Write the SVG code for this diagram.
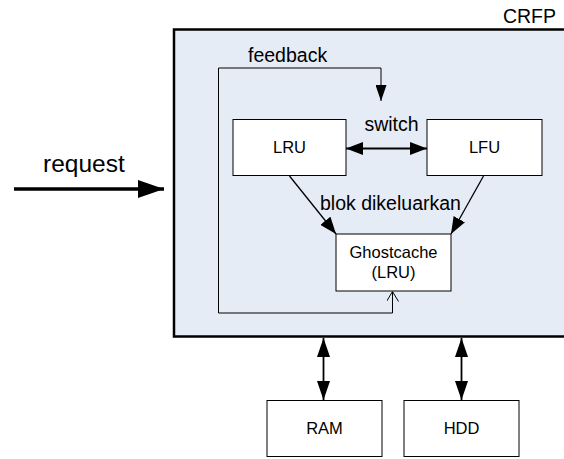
<svg xmlns="http://www.w3.org/2000/svg" width="564" height="459" viewBox="0 0 564 459">
<style>
text{font-family:"Liberation Sans",Arial,sans-serif;fill:#000}
.box{fill:#fff;stroke:#000;stroke-width:1}
.lbl{font-size:19.5px}
.in{font-size:16.5px;text-anchor:middle}
.c{fill:none;stroke:#000;stroke-width:1.3}
</style>
<defs>
<marker id="ah" viewBox="0 0 17 13" refX="17" refY="6.5" markerWidth="17" markerHeight="13" markerUnits="userSpaceOnUse" orient="auto-start-reverse"><path d="M0,0 L17,6.5 L0,13 z" fill="#000"/></marker>
<marker id="ahv" viewBox="0 0 19 13" refX="19" refY="6.5" markerWidth="19" markerHeight="13" markerUnits="userSpaceOnUse" orient="auto-start-reverse"><path d="M0,0 L19,6.5 L0,13 z" fill="#000"/></marker>
<marker id="ahr" viewBox="0 0 26 18" refX="26" refY="9" markerWidth="26" markerHeight="18" markerUnits="userSpaceOnUse" orient="auto"><path d="M0,0 L26,9 L0,18 z" fill="#000"/></marker>
<marker id="ahs" viewBox="0 0 16 11" refX="16" refY="5.5" markerWidth="16" markerHeight="11" markerUnits="userSpaceOnUse" orient="auto"><path d="M0,0 L16,5.5 L0,11 z" fill="#000"/></marker>
<marker id="open" viewBox="0 0 10 12" refX="10" refY="6" markerWidth="10" markerHeight="12" markerUnits="userSpaceOnUse" orient="auto"><path d="M0,0 L10,6 L0,12" fill="none" stroke="#000" stroke-width="1"/></marker>
</defs>
<g id="crfp">
<rect x="174" y="29.5" width="400" height="307" fill="#E6ECF6" stroke="#000" stroke-width="2.5"/>
<text class="lbl" x="556" y="22.5" text-anchor="end">CRFP</text>
</g>
<g id="lru"><rect class="box" x="233" y="119.5" width="113" height="56"/><text class="in" x="289.5" y="153">LRU</text></g>
<g id="lfu"><rect class="box" x="427" y="119.5" width="115" height="56"/><text class="in" x="484.5" y="153">LFU</text></g>
<g id="ghost"><rect class="box" x="336" y="234" width="115" height="57"/><text class="in" x="393.5" y="257.5">Ghostcache</text><text class="in" x="393.5" y="278">(LRU)</text></g>
<g id="ram"><rect class="box" x="267" y="400.5" width="115" height="56"/><text class="in" x="324.5" y="433.5">RAM</text></g>
<g id="hdd"><rect class="box" x="404" y="400.5" width="115" height="56"/><text class="in" x="461.5" y="433.5">HDD</text></g>
<g id="connectors">
<path class="c" d="M14,189 H164" style="stroke-width:3.5" marker-end="url(#ahr)"/>
<path class="c" d="M218.5,313 V68 H381 V101" style="stroke-width:1" marker-end="url(#ahs)"/>
<path class="c" d="M218.5,313 H392.5 V291.5" style="stroke-width:1" marker-end="url(#open)"/>
<path class="c" d="M346,148.5 H427" style="stroke-width:1.8" marker-start="url(#ah)" marker-end="url(#ah)"/>
<path class="c" d="M289.5,176 L336,234" marker-end="url(#ah)"/>
<path class="c" d="M483.5,176 L451,234" marker-end="url(#ah)"/>
<path class="c" d="M323.5,338 V400" style="stroke-width:1.8" marker-start="url(#ahv)" marker-end="url(#ahv)"/>
<path class="c" d="M461.5,338 V400" style="stroke-width:1.8" marker-start="url(#ahv)" marker-end="url(#ahv)"/>
</g>
<g id="labels">
<text class="lbl" x="248" y="62">feedback</text>
<text class="lbl" x="391.5" y="131" text-anchor="middle">switch</text>
<text class="lbl" x="320" y="210">blok dikeluarkan</text>
<text x="43" y="172" font-size="24.5">request</text>
</g>
</svg>
